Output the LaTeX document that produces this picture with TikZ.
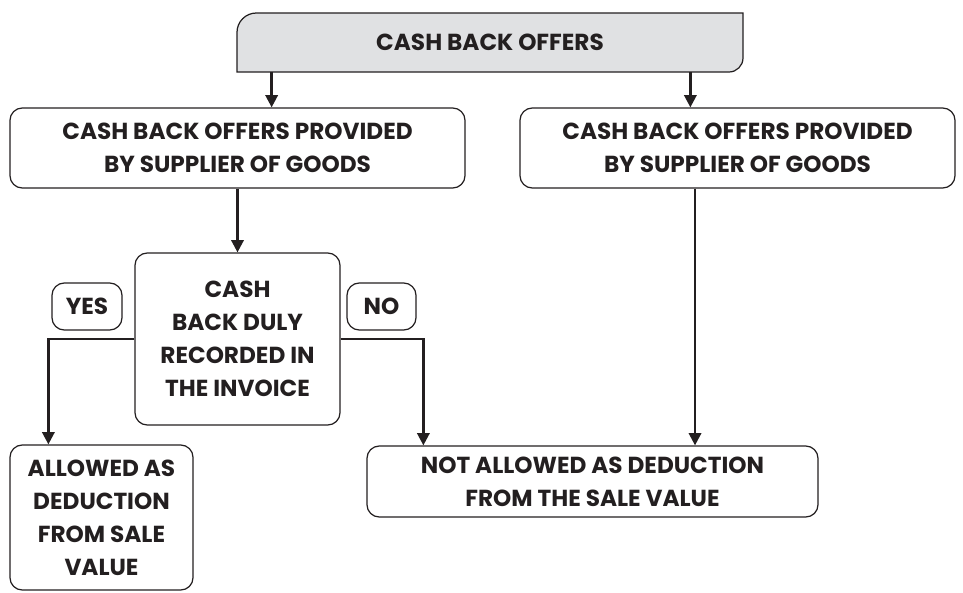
\documentclass[tikz,border=0pt]{standalone}
\usepackage{fontspec}
\setmainfont{Poppins}
\usetikzlibrary{arrows.meta}
\definecolor{ink}{HTML}{231F20}
\definecolor{headgray}{HTML}{E0E1E3}
\begin{document}
\begin{tikzpicture}[x=0.02cm, y=-0.02cm, font=\bfseries\fontsize{13.2}{18.8}\selectfont, text=ink,
  box/.style={draw=ink, line width=0.7pt, rounded corners=7pt, align=center, inner sep=0pt},
  arr/.style={draw=ink, line width=1.4pt, -{Triangle[length=7pt, width=7pt]}}]
  \useasboundingbox (0,0) rectangle (963,592);
  % heading box, two rounded corners only
  \draw[draw=ink, line width=0.7pt, fill=headgray] (237,72) [rounded corners=11pt] -- (237,13) [sharp corners] -- (743,13) [rounded corners=8pt] -- (743,72) [sharp corners] -- cycle;
  \node (top) at (490,42.5) [minimum width=506*0.02cm, minimum height=59*0.02cm] {CASH BACK OFFERS};
  \node[box, minimum width=455*0.02cm, minimum height=80*0.02cm] (sup) at (237.5,148) {CASH BACK OFFERS PROVIDED\\BY SUPPLIER OF GOODS};
  \node[box, minimum width=435*0.02cm, minimum height=80*0.02cm] (other) at (737.5,148) {CASH BACK OFFERS PROVIDED\\BY SUPPLIER OF GOODS};
  \node[box, minimum width=205*0.02cm, minimum height=172*0.02cm] (duly) at (237.5,339) {CASH\\BACK DULY\\RECORDED IN\\THE INVOICE};
  \node[box, minimum width=70*0.02cm, minimum height=47*0.02cm] (yes) at (87,306.5) {YES};
  \node[box, minimum width=69*0.02cm, minimum height=47*0.02cm] (no) at (381.5,306.5) {NO};
  \node[box, minimum width=183*0.02cm, minimum height=145*0.02cm] (allowed) at (101.5,517.5) {ALLOWED AS\\DEDUCTION\\FROM SALE\\VALUE};
  \node[box, minimum width=451*0.02cm, minimum height=71*0.02cm] (notallowed) at (592.5,481.5) {NOT ALLOWED AS DEDUCTION\\FROM THE SALE VALUE};
  % connectors
  \draw[arr] ([xshift=0.7cm]top.south west) -- ([xshift=0.7cm]top.south west |- sup.north);
  \draw[arr] ([xshift=-1.06cm]top.south east) -- ([xshift=-1.06cm]top.south east |- other.north);
  \draw[arr] (sup.south) -- (duly.north);
  \draw[arr] (duly.west) -| ([xshift=0.78cm]allowed.north west);
  \draw[arr] (duly.east) -| ([xshift=1.14cm]notallowed.north west);
  \draw[arr] ([xshift=-0.85cm]other.south) -- ([xshift=-0.85cm]other.south |- notallowed.north);
\end{tikzpicture}
\end{document}
